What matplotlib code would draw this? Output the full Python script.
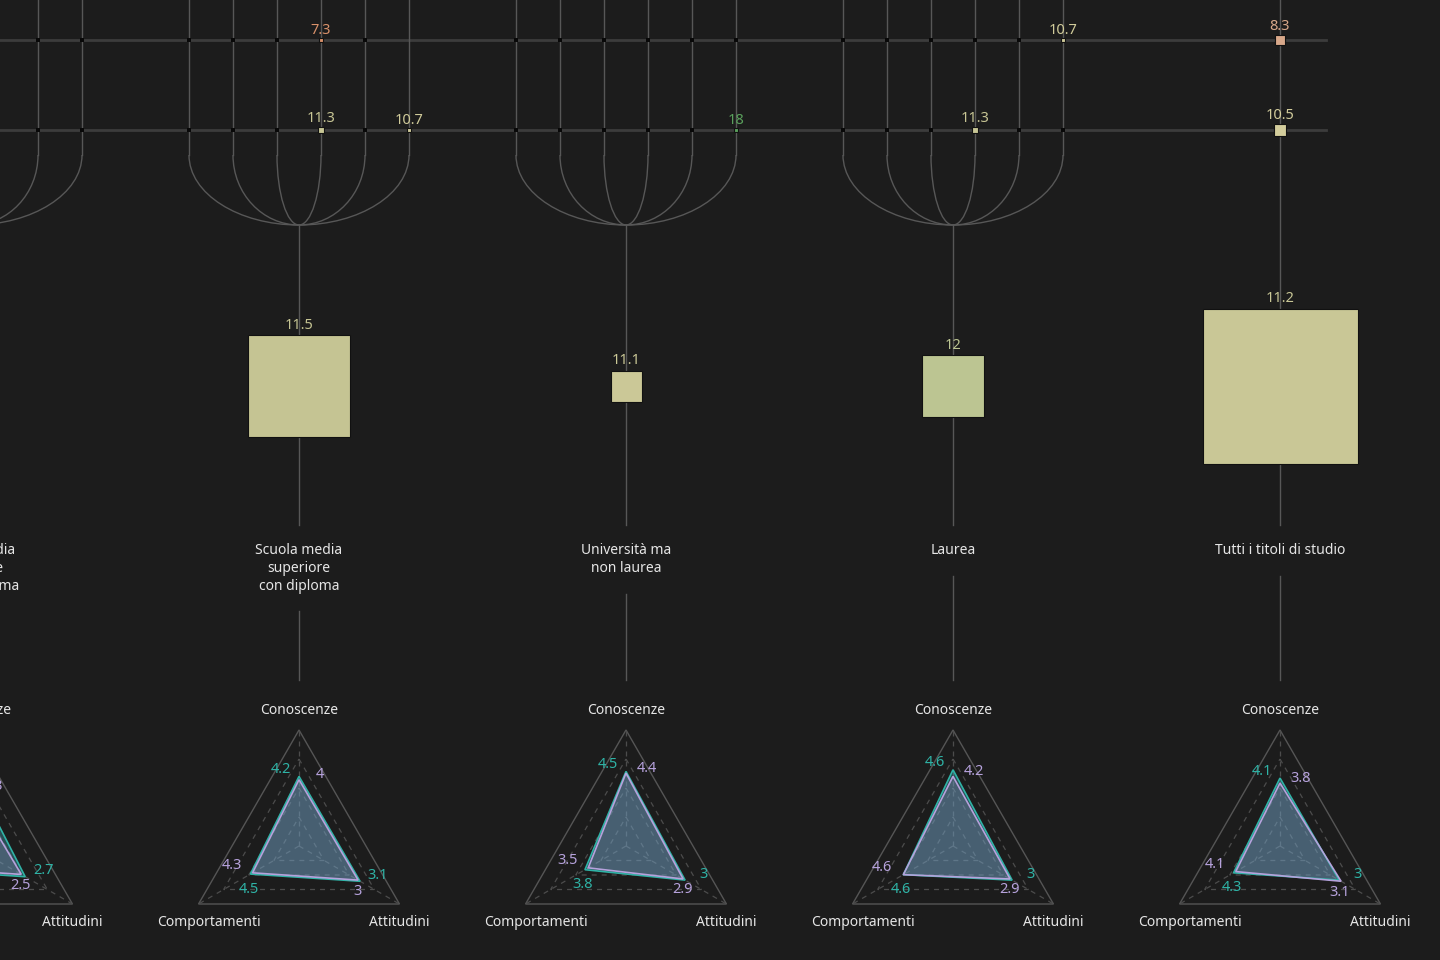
import numpy as np
import matplotlib
matplotlib.use("Agg")
import matplotlib.pyplot as plt
from matplotlib.colors import LinearSegmentedColormap, Normalize
from matplotlib.patches import Rectangle, Polygon, PathPatch
from matplotlib.path import Path

plt.rcParams['font.family'] = ['Noto Sans', 'DejaVu Sans']

nan = np.nan

# titoli di studio (il primo gruppo e' tagliato a sinistra)
categorie = ["Scuola media\nsuperiore\nsenza diploma",
             "Scuola media\nsuperiore\ncon diploma",
             "Università ma\nnon laurea",
             "Laurea",
             "Tutti i titoli di studio"]
valore_cat = [11.0, 11.5, 11.1, 12, 11.2]
peso_cat = [9.0, 42.5, 4.0, 15.5, 100.0]

# righe in alto: nan = cella vuota (puntino nero), None = niente
riga1_val = [[nan, nan, nan, nan, nan, nan],
             [nan, nan, nan, 7.3, nan, None],
             [nan, nan, nan, nan, nan, nan],
             [nan, nan, nan, nan, nan, 10.7],
             [8.3]]
riga1_peso = [[0] * 6,
              [0, 0, 0, 0.04, 0, 0],
              [0] * 6,
              [0, 0, 0, 0, 0, 0.04],
              [0.42]]
riga2_val = [[nan, nan, nan, nan, nan, nan],
             [nan, nan, nan, 11.3, nan, 10.7],
             [nan, nan, nan, nan, nan, 18],
             [nan, nan, nan, 11.3, nan, nan],
             [10.5]]
riga2_peso = [[0] * 6,
              [0, 0, 0, 0.15, 0, 0.04],
              [0, 0, 0, 0, 0, 0.04],
              [0, 0, 0, 0.15, 0, 0],
              [0.6]]

# radar: assi e valori delle due serie
assi = ["Conoscenze", "Attitudini", "Comportamenti"]
assi_max = [7.0, 5.1, 9.3]
serie_a = [[4.4, 2.7, 3.9], [4.2, 3.1, 4.5], [4.5, 3.0, 3.8], [4.6, 3.0, 4.6], [4.1, 3.0, 4.3]]
serie_b = [[3.3, 2.5, 3.6], [4.0, 3.0, 4.3], [4.4, 2.9, 3.5], [4.2, 2.9, 4.6], [3.8, 3.1, 4.1]]

BG = '#1c1c1c'
LINE = '#575757'
HLINE = '#3c3c3c'
TXT = '#e6e6e6'
TEAL = '#2fb3a6'
LILLA = '#b6a2dc'

cmap = LinearSegmentedColormap.from_list(
    'valori', [(0.0, '#d98b62'), (0.118, '#d8a88a'), (0.318, '#d3cd9c'),
               (0.409, '#c5c493'), (0.4545, '#bcc592'), (1.0, '#5aa05c')])
norm = Normalize(7, 18)

fig = plt.figure(figsize=(14.4, 9.6), dpi=100, facecolor=BG)
ax = fig.add_axes([0, 0, 1, 1])
ax.set_facecolor(BG)
ax.set_xlim(0, 1440)
ax.set_ylim(960, 0)
ax.axis('off')

passo = 327
dx = 44
righe_y = [40, 130]
y_curva, y_nodo = 155, 225
y_quad = 386
lato_max = 155
radar_y, R = 846, 116


def lato(peso):
    return lato_max * np.sqrt(peso / 100.0)


def quadrato(x, y, s, col, z=5):
    ax.add_patch(Rectangle((x - s / 2, y - s / 2), s, s, facecolor=col,
                           edgecolor='#111111', lw=0.8, zorder=z))


for y in righe_y:
    ax.plot([0, 1326], [y, y], color=HLINE, lw=2, zorder=1)

for i, nome in enumerate(categorie):
    cx = -28 + passo * i
    ncol = len(riga1_val[i])
    xs = [cx + (j - (ncol - 1) / 2) * dx for j in range(ncol)]

    if ncol > 1:
        for x in xs:
            ax.plot([x, x], [0, y_curva], color=LINE, lw=1, zorder=2)
            k = 0.552
            verts = [(x, y_curva), (x, y_curva + k * (y_nodo - y_curva)),
                     (cx - k * (cx - x), y_nodo), (cx, y_nodo)]
            path = Path(verts, [Path.MOVETO, Path.CURVE4, Path.CURVE4, Path.CURVE4])
            ax.add_patch(PathPatch(path, facecolor='none', edgecolor=LINE, lw=1, zorder=2))
        ax.plot([cx, cx], [y_nodo, 525], color=LINE, lw=1, zorder=2)
    else:
        ax.plot([cx, cx], [0, 525], color=LINE, lw=1, zorder=2)

    # celle delle due righe
    for y, vals, pesi in [(righe_y[0], riga1_val[i], riga1_peso[i]),
                          (righe_y[1], riga2_val[i], riga2_peso[i])]:
        for x, v, p in zip(xs, vals, pesi):
            if v is None:
                continue
            if np.isnan(v):
                ax.add_patch(Rectangle((x - 2, y - 2), 4, 4, facecolor='#080808',
                                       edgecolor='none', zorder=4))
                continue
            s = max(lato(p), 3)
            col = cmap(norm(v))
            quadrato(x, y, s, col)
            ax.text(x, y - s / 2 - 0.5, f"{v:g}", color=col, fontsize=10.5,
                    ha='center', va='bottom', zorder=6)

    # quadrato del gruppo
    s = lato(peso_cat[i])
    col = cmap(norm(valore_cat[i]))
    quadrato(cx, y_quad, s, col)
    ax.text(cx, y_quad - s / 2 - 2, f"{valore_cat[i]:g}", color=col, fontsize=10.5,
            ha='center', va='bottom', zorder=6)

    # etichetta
    nlin = nome.count('\n') + 1
    ax.text(cx, 543.5, nome, color=TXT, fontsize=10, ha='center', va='top',
            linespacing=1.25, zorder=6)
    ax.plot([cx, cx], [550 + 17.5 * (nlin - 1) + 26, 680], color=LINE, lw=1, zorder=2)

    # radar
    ang = np.radians([90, -30, 210])
    ux, uy = np.cos(ang), -np.sin(ang)
    vx, vy = cx + R * ux, radar_y + R * uy
    ax.add_patch(Polygon(np.c_[vx, vy], closed=True, fill=False,
                         edgecolor='#555555', lw=1, zorder=2))
    for f in [0.25, 0.5, 0.75]:
        ax.add_patch(Polygon(np.c_[cx + f * R * ux, radar_y + f * R * uy], closed=True,
                             fill=False, edgecolor='#4c4c4c', lw=0.9, ls=(0, (4, 4)), zorder=2))
    for a in range(3):
        ax.plot([cx, vx[a]], [radar_y, vy[a]], color='#4c4c4c', lw=0.9,
                ls=(0, (4, 4)), zorder=2)

    pts = {}
    for nome_s, vals, fill, alpha in [('a', serie_a[i], '#46aabe', 0.35),
                                      ('b', serie_b[i], '#a096c8', 0.25)]:
        r = R * np.array(vals) / np.array(assi_max)
        px, py = cx + r * ux, radar_y + r * uy
        pts[nome_s] = (px, py)
        ax.add_patch(Polygon(np.c_[px, py], closed=True, facecolor=fill,
                             edgecolor='none', alpha=alpha, zorder=3))
    for nome_s, col in [('a', TEAL), ('b', LILLA)]:
        px, py = pts[nome_s]
        ax.add_patch(Polygon(np.c_[px, py], closed=True, fill=False,
                             edgecolor=col, lw=1.2, zorder=4))

    # etichette dei valori
    off_a = [(-18, -7), (18, -6), (-2, 15)]
    off_b = [(21, -5), (-1, 11), (-21, -7)]
    for a in range(3):
        px, py = pts['a']
        ax.text(px[a] + off_a[a][0], py[a] + off_a[a][1], f"{serie_a[i][a]:g}",
                color=TEAL, fontsize=10.5, ha='center', va='center', zorder=6)
        px, py = pts['b']
        ax.text(px[a] + off_b[a][0], py[a] + off_b[a][1], f"{serie_b[i][a]:g}",
                color=LILLA, fontsize=10.5, ha='center', va='center', zorder=6)

    ax.text(cx, radar_y - 136, assi[0], color=TXT, fontsize=10, ha='center', va='center')
    ax.text(cx + 100, radar_y + 76, assi[1], color=TXT, fontsize=10, ha='center', va='center')
    ax.text(cx - 90, radar_y + 76, assi[2], color=TXT, fontsize=10, ha='center', va='center')

fig.savefig('out.png', dpi=100, facecolor=BG)
